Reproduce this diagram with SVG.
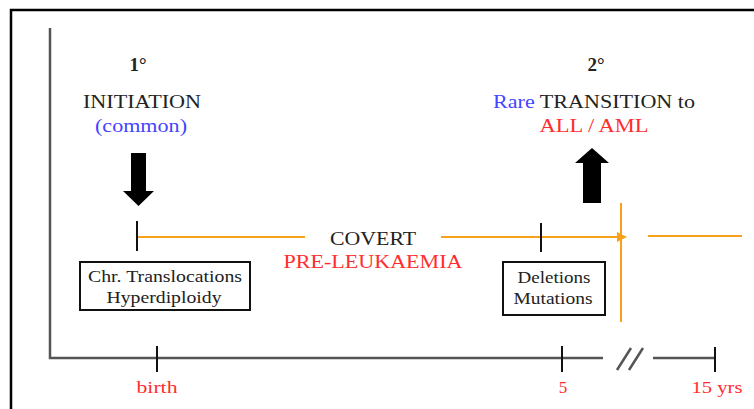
<svg xmlns="http://www.w3.org/2000/svg" width="754" height="409" viewBox="0 0 754 409" font-family="'Liberation Serif', 'DejaVu Serif', serif">
<style>
text{font-family:"Liberation Serif","DejaVu Serif",serif;fill:#222;text-anchor:middle}
.t{font-size:19px}
.b{font-size:17px}
.red{fill:#ff2d2d}
.blue{fill:#4545ff}
.or{stroke:#f7a21b;stroke-width:2;fill:none}
.tk{stroke:#111;stroke-width:2;fill:none}
.ax{stroke:#555;stroke-width:2.5;fill:none}
.box{fill:#fff;stroke:#111;stroke-width:2}
</style>
<defs>
<marker id="oa" markerWidth="10" markerHeight="10" refX="8" refY="5" orient="auto" markerUnits="userSpaceOnUse">
<path d="M0,0 L10,5 L0,10 Z" fill="#f7a21b"/>
</marker>
</defs>
<rect width="754" height="409" fill="#fff"/>
<path d="M11,409 V10 H754" fill="none" stroke="#000" stroke-width="2.5"/>
<g id="axes">
<path class="ax" d="M50,28 V358 H603 M653,358 H715"/>
<path class="ax" d="M617,370 L631,348 M629,370 L643,348"/>
<path class="tk" d="M157,346 V372 M562,346 V372 M715,347 V372"/>
<text class="b red" x="157" y="393" textLength="41" lengthAdjust="spacingAndGlyphs">birth</text>
<text class="b red" x="563" y="393">5</text>
<text class="b red" x="717" y="393" textLength="51" lengthAdjust="spacingAndGlyphs">15 yrs</text>
</g>
<g id="connectors">
<path class="or" d="M137,237 H305"/>
<path class="or" d="M441,237 H625" marker-end="url(#oa)"/>
<path class="or" d="M648,236 H742"/>
<path class="or" d="M621,203 V322"/>
<path class="tk" d="M137,221 V251 M541,223 V252"/>
</g>
<g id="initiation">
<text class="t" x="138" y="71" font-weight="bold">1°</text>
<text class="t" x="142" y="108" textLength="118" lengthAdjust="spacingAndGlyphs">INITIATION</text>
<text class="t blue" x="141" y="132" textLength="92" lengthAdjust="spacingAndGlyphs">(common)</text>
<path d="M131,153 H146 V191 H154 L138.5,206 L123,191 H131 Z" fill="#000"/>
</g>
<g id="transition">
<text class="t" x="596" y="71" font-weight="bold">2°</text>
<text class="t" x="594" y="108" textLength="202" lengthAdjust="spacingAndGlyphs"><tspan class="blue">Rare</tspan> TRANSITION to</text>
<text class="t red" x="594" y="132" textLength="109" lengthAdjust="spacingAndGlyphs">ALL / AML</text>
<path d="M583,203 H601 V163 H609 L592,148 L575,163 H583 Z" fill="#000"/>
</g>
<g id="covert">
<text class="t" x="373" y="245" textLength="86" lengthAdjust="spacingAndGlyphs">COVERT</text>
<text class="t red" x="373" y="268" textLength="179" lengthAdjust="spacingAndGlyphs">PRE-LEUKAEMIA</text>
</g>
<g id="box1">
<rect class="box" x="80" y="262" width="170" height="48"/>
<text class="b" x="165" y="282" textLength="154" lengthAdjust="spacingAndGlyphs">Chr. Translocations</text>
<text class="b" x="164" y="303" textLength="115" lengthAdjust="spacingAndGlyphs">Hyperdiploidy</text>
</g>
<g id="box2">
<rect class="box" x="503" y="262" width="102" height="53"/>
<text class="b" x="554" y="283" textLength="73" lengthAdjust="spacingAndGlyphs">Deletions</text>
<text class="b" x="553" y="304" textLength="79" lengthAdjust="spacingAndGlyphs">Mutations</text>
</g>
</svg>
